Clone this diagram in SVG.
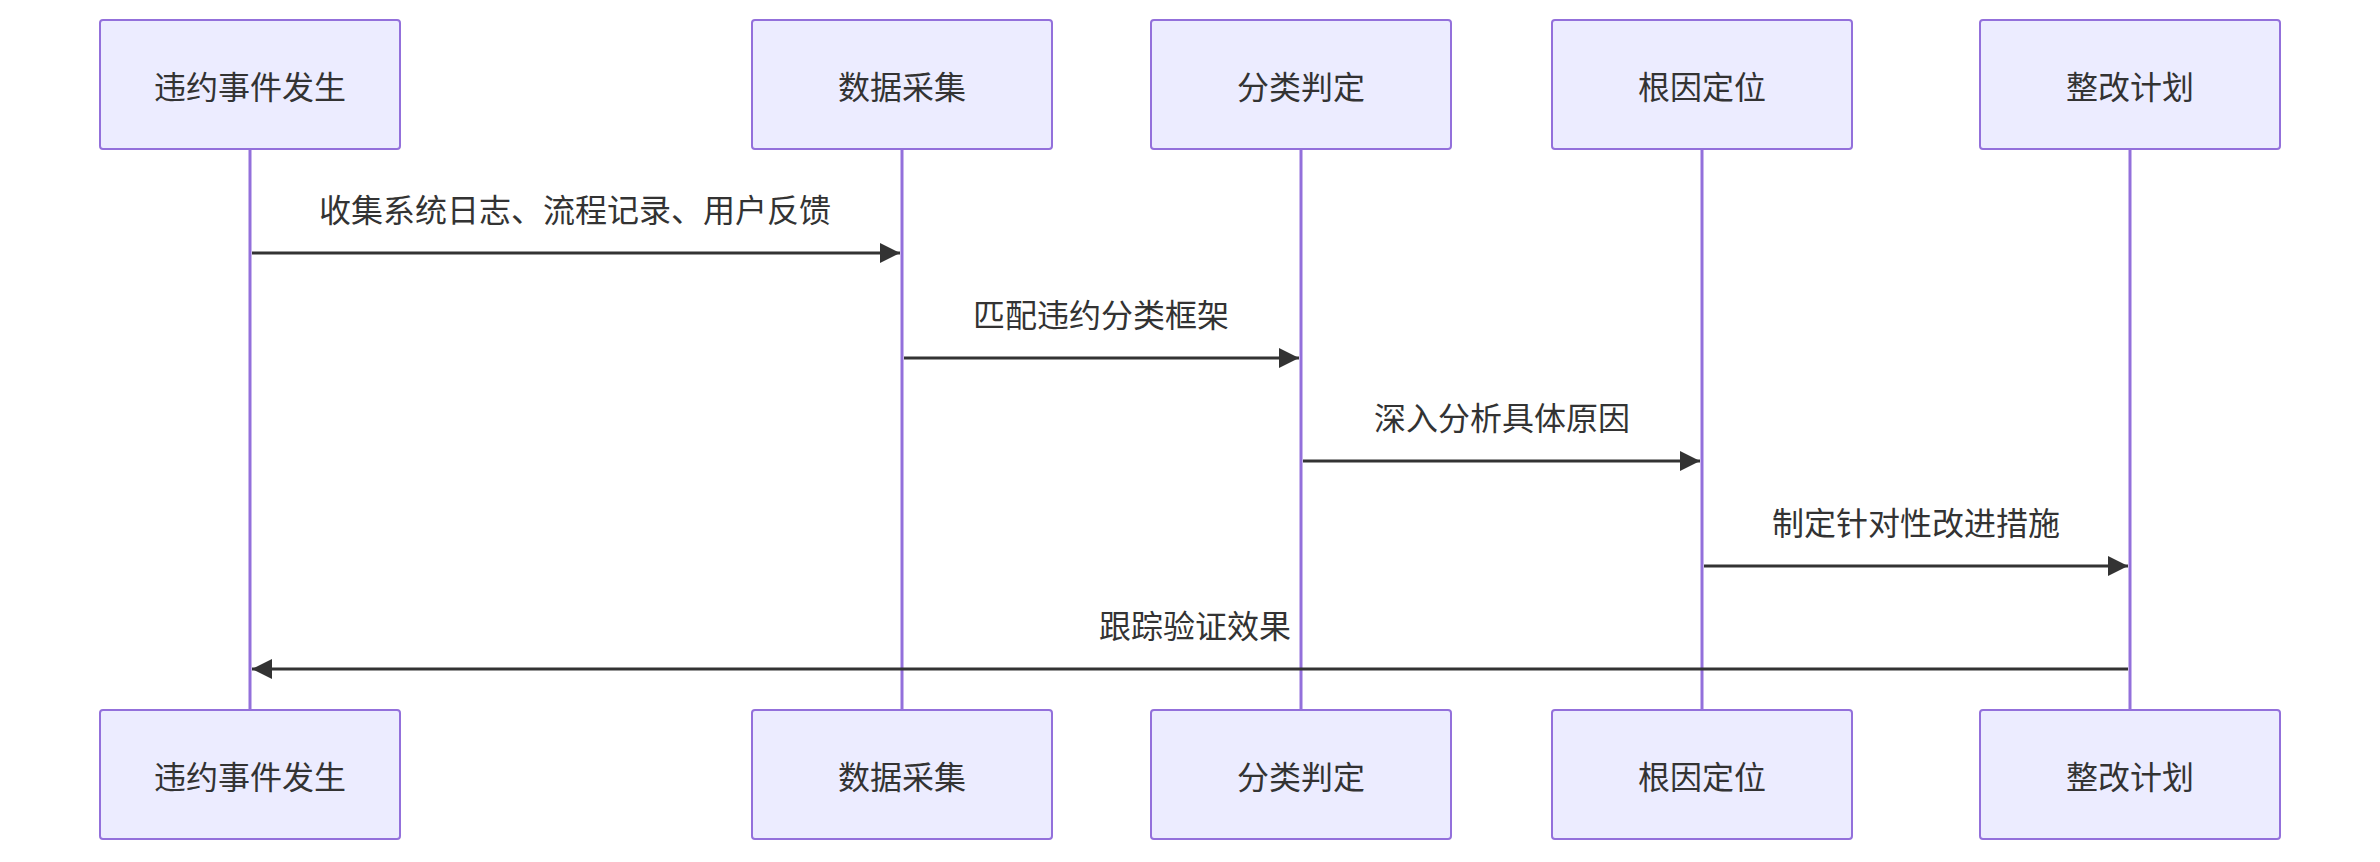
<svg xmlns="http://www.w3.org/2000/svg" width="2380" height="862" viewBox="0 0 2380 862">
<style>
.box{fill:#ECECFF;stroke:#9370DB;stroke-width:2}
.life{stroke:#9370DB;stroke-width:3}
.t{font-family:"Noto Sans CJK SC","Liberation Sans",sans-serif;font-size:32px;fill:#333;text-anchor:middle;dominant-baseline:central}
.msg{stroke:#333;stroke-width:3;fill:none}
</style>
<defs><marker id="ah" viewBox="0 0 12 12" refX="12" refY="6" markerWidth="12" markerHeight="12" markerUnits="userSpaceOnUse" orient="auto"><path d="M0,0L12,6L0,12z" fill="#333"/></marker>
<marker id="a" viewBox="0 0 10 10" refX="10" refY="5" markerWidth="20" markerHeight="20" markerUnits="userSpaceOnUse" orient="auto"><path d="M0,0L10,5L0,10z" fill="#333"/></marker></defs>
<g id="lifelines">
<line class="life" x1="250" y1="149" x2="250" y2="709"/>
<line class="life" x1="902" y1="149" x2="902" y2="709"/>
<line class="life" x1="1301" y1="149" x2="1301" y2="709"/>
<line class="life" x1="1702" y1="149" x2="1702" y2="709"/>
<line class="life" x1="2130" y1="149" x2="2130" y2="709"/>
</g>
<g id="n1"><rect class="box" x="100" y="20" width="300" height="129" rx="3"/><text class="t" x="250" y="85">违约事件发生</text><rect class="box" x="100" y="710" width="300" height="129" rx="3"/><text class="t" x="250" y="775">违约事件发生</text></g>
<g id="n2"><rect class="box" x="752" y="20" width="300" height="129" rx="3"/><text class="t" x="902" y="85">数据采集</text><rect class="box" x="752" y="710" width="300" height="129" rx="3"/><text class="t" x="902" y="775">数据采集</text></g>
<g id="n3"><rect class="box" x="1151" y="20" width="300" height="129" rx="3"/><text class="t" x="1301" y="85">分类判定</text><rect class="box" x="1151" y="710" width="300" height="129" rx="3"/><text class="t" x="1301" y="775">分类判定</text></g>
<g id="n4"><rect class="box" x="1552" y="20" width="300" height="129" rx="3"/><text class="t" x="1702" y="85">根因定位</text><rect class="box" x="1552" y="710" width="300" height="129" rx="3"/><text class="t" x="1702" y="775">根因定位</text></g>
<g id="n5"><rect class="box" x="1980" y="20" width="300" height="129" rx="3"/><text class="t" x="2130" y="85">整改计划</text><rect class="box" x="1980" y="710" width="300" height="129" rx="3"/><text class="t" x="2130" y="775">整改计划</text></g>
<g id="connectors">
<line class="msg" x1="252" y1="253" x2="900" y2="253" marker-end="url(#a)"/>
<text class="t" x="575" y="208">收集系统日志、流程记录、用户反馈</text>
<line class="msg" x1="904" y1="358" x2="1299" y2="358" marker-end="url(#a)"/>
<text class="t" x="1101" y="313">匹配违约分类框架</text>
<line class="msg" x1="1303" y1="461" x2="1700" y2="461" marker-end="url(#a)"/>
<text class="t" x="1502" y="416">深入分析具体原因</text>
<line class="msg" x1="1704" y1="566" x2="2128" y2="566" marker-end="url(#a)"/>
<text class="t" x="1916" y="521">制定针对性改进措施</text>
<line class="msg" x1="2128" y1="669" x2="252" y2="669" marker-end="url(#a)"/>
<text class="t" x="1195" y="624">跟踪验证效果</text>
</g>
</svg>
